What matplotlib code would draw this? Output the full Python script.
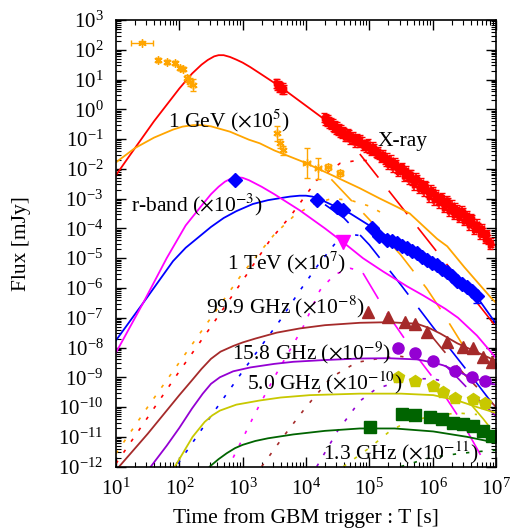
import numpy as np
import matplotlib
matplotlib.use("Agg")
import matplotlib.pyplot as plt
from matplotlib.ticker import LogLocator, LogFormatterMathtext, NullFormatter

plt.rcParams['font.family'] = ['Liberation Serif', 'DejaVu Serif']
plt.rcParams['mathtext.fontset'] = 'stix'
plt.rcParams['axes.unicode_minus'] = False

# ---- model curves, log10(t [s]) and log10(F [mJy]) ----
xray_mod_lt = [1.0, 1.2, 1.4, 1.6, 1.8, 2.0, 2.2, 2.35, 2.45, 2.55, 2.62, 2.7, 2.8, 2.9, 3.0, 3.12, 3.3, 3.6, 4.3, 4.85, 5.2, 5.5, 5.75, 6.0, 6.25, 6.5, 6.75, 7.0]
xray_mod_lf = [-2.21, -1.6, -1.0, -0.4, 0.15, 0.7, 1.2, 1.5, 1.66, 1.78, 1.82, 1.82, 1.76, 1.67, 1.57, 1.42, 1.17, 0.75, -0.35, -1.05, -1.55, -1.98, -2.4, -2.85, -3.25, -3.65, -4.1, -4.6]
xray_dot_lt = [1.0, 1.5, 2.0, 2.5, 3.0, 3.43, 3.75, 4.17, 4.54, 4.85, 5.1]
xray_dot_lf = [-11.9, -10.35, -8.8, -7.3, -5.75, -4.4, -3.6, -2.38, -1.81, -1.7, -1.75]
xray_dash_lt = [4.85, 7.0]
xray_dash_lf = [-1.5, -7.3]

gev_mod_lt = [1.0, 1.3, 1.6, 1.9, 2.05, 2.22, 2.35, 2.5, 2.8, 3.1, 3.27, 3.5, 3.95, 4.4, 4.85, 5.17, 5.44, 5.64, 6.07, 6.23, 6.5, 6.91, 7.0]
gev_mod_lf = [-1.78, -1.3, -0.95, -0.68, -0.58, -0.53, -0.53, -0.57, -0.75, -1.02, -1.14, -1.38, -1.76, -2.2, -2.65, -3.0, -3.28, -3.5, -4.35, -4.6, -5.3, -6.3, -6.5]
gev_dot_lt = [1.0, 1.5, 2.0, 2.5, 3.0, 3.5, 3.8, 4.1, 4.4, 4.7, 5.0, 5.3]
gev_dot_lf = [-11.56, -10.0, -8.5, -7.0, -5.5, -4.2, -3.6, -3.2, -3.0, -3.05, -3.25, -3.6]
gev_dash_lt = [4.4, 5.0, 5.5, 5.9, 6.15, 6.5]
gev_dash_lf = [-2.35, -3.7, -4.9, -6.0, -6.8, -8.0]

opt_mod_lt = [1.0, 1.43, 1.9, 2.1, 2.3, 2.5, 2.7, 2.9, 3.16, 3.4, 3.6, 3.75, 3.9, 4.0, 4.1, 4.2, 4.4, 4.7, 5.0, 5.33, 5.7, 6.07, 6.4, 6.7, 7.0]
opt_mod_lf = [-7.76, -6.5, -5.1, -4.65, -4.3, -3.95, -3.65, -3.42, -3.18, -3.05, -2.98, -2.93, -2.9, -2.9, -2.93, -3.0, -3.2, -3.5, -3.9, -4.33, -4.85, -5.4, -5.85, -6.3, -7.2]
opt_dot_lt = [1.98, 2.5, 3.0, 3.59, 3.9, 4.2, 4.5, 4.7, 4.9]
opt_dot_lf = [-11.9, -10.3, -8.8, -7.09, -6.1, -5.2, -4.4, -4.2, -4.25]
opt_dash_lt = [4.3, 4.6, 5.0, 5.5, 6.0, 6.64, 6.95]
opt_dash_lf = [-3.2, -3.65, -4.55, -5.9, -7.3, -9.04, -9.9]

tev_mod_lt = [1.0, 1.43, 1.8, 2.1, 2.33, 2.5, 2.62, 2.72, 2.82, 2.91, 3.0, 3.1, 3.3, 3.5, 3.9, 4.3, 4.59, 4.9, 5.22, 5.6, 5.85, 6.2, 6.4, 6.7, 7.0]
tev_mod_lf = [-8.17, -6.5, -5.0, -3.9, -3.29, -2.85, -2.6, -2.43, -2.32, -2.28, -2.3, -2.38, -2.6, -2.85, -3.39, -4.0, -4.47, -5.0, -5.45, -5.95, -6.25, -6.7, -7.0, -7.6, -8.35]
tev_dot_lt = [2.85, 3.2, 3.5, 3.95, 4.22, 4.45, 4.7, 4.9]
tev_dot_lf = [-11.7, -10.2, -9.0, -7.33, -6.08, -5.55, -5.34, -5.45]
tev_dash_lt = [4.9, 5.27, 5.75, 6.0, 6.48, 6.78, 6.9]
tev_dash_lf = [-5.5, -6.82, -8.3, -9.0, -10.56, -11.7, -12.1]

r99_mod_lt = [1.05, 1.5, 2.0, 2.2, 2.35, 2.5, 2.65, 2.85, 3.0, 3.2, 3.54, 3.9, 4.3, 4.85, 5.3, 5.75, 5.95, 6.12, 6.39, 6.64, 7.0]
r99_mod_lf = [-12.0, -10.9, -9.6, -9.1, -8.72, -8.38, -8.14, -7.95, -7.83, -7.7, -7.5, -7.36, -7.25, -7.17, -7.15, -7.2, -7.35, -7.53, -7.86, -8.1, -8.45]
r99_dot_lt = [3.3, 3.64, 4.0, 4.4, 4.8, 5.2, 5.5, 5.8]
r99_dot_lf = [-12.0, -11.0, -10.0, -9.0, -8.5, -8.35, -8.3, -8.4]
r99_dash_lt = [5.9, 6.17, 6.5, 6.86, 7.0]
r99_dash_lf = [-7.4, -8.1, -8.9, -9.68, -10.0]

r15_mod_lt = [1.55, 1.8, 2.0, 2.2, 2.37, 2.5, 2.64, 2.85, 3.12, 3.5, 3.8, 4.3, 4.85, 5.3, 5.75, 6.0, 6.17, 6.54, 6.86, 7.0]
r15_mod_lf = [-12.0, -11.3, -10.7, -10.05, -9.55, -9.22, -9.0, -8.8, -8.67, -8.55, -8.48, -8.42, -8.37, -8.36, -8.4, -8.5, -8.6, -8.94, -9.18, -9.25]
r15_dot_lt = [4.17, 4.5, 4.85, 5.1, 5.37, 5.7, 6.0, 6.2]
r15_dot_lf = [-12.0, -10.8, -9.8, -9.4, -9.2, -9.05, -9.05, -9.15]
r15_dash_lt = [6.2, 6.43, 6.7, 7.0]
r15_dash_lf = [-8.6, -9.1, -9.7, -10.3]

r5_mod_lt = [1.93, 2.21, 2.4, 2.52, 2.64, 2.9, 3.27, 3.6, 4.06, 4.85, 5.5, 6.01, 6.39, 6.7, 7.0]
r5_mod_lf = [-12.0, -11.0, -10.5, -10.28, -10.12, -9.92, -9.78, -9.68, -9.6, -9.55, -9.55, -9.6, -9.78, -10.0, -10.2]
r5_dot_lt = [4.59, 5.01, 5.33, 5.6, 6.0, 6.39, 6.7]
r5_dot_lf = [-12.0, -11.36, -10.8, -10.5, -10.3, -10.2, -10.25]
r5_dash_lt = [6.6, 6.8, 7.0]
r5_dash_lf = [-9.9, -10.4, -10.95]

r13_mod_lt = [2.48, 2.62, 2.75, 2.88, 3.0, 3.2, 3.4, 3.8, 4.3, 4.85, 5.4, 6.01, 6.54, 7.0]
r13_mod_lf = [-12.0, -11.75, -11.55, -11.38, -11.27, -11.14, -11.05, -10.92, -10.8, -10.72, -10.72, -10.82, -11.0, -11.2]
r13_dot_lt = [5.5, 5.91, 6.12, 6.43, 6.7, 7.0]
r13_dot_lf = [-12.0, -11.73, -11.65, -11.56, -11.5, -11.45]

# ---- data points ----
xray_lt = [3.52, 3.54, 3.55, 3.57, 3.58, 3.59, 3.61, 3.62, 3.63, 3.65,
           4.28, 4.30, 4.31, 4.33, 4.34, 4.36, 4.37, 4.39, 4.40, 4.42, 4.43, 4.45,
           4.46, 4.48, 4.49, 4.51, 4.52, 4.54, 4.55, 4.57, 4.58,
           4.60, 4.64, 4.68, 4.72, 4.76, 4.80, 4.84, 4.88, 4.92, 4.96, 5.00, 5.04,
           5.08, 5.12, 5.16, 5.20, 5.24, 5.28, 5.32, 5.36, 5.40, 5.44, 5.48, 5.52,
           5.56, 5.60, 5.64, 5.68, 5.72, 5.76, 5.80, 5.84, 5.88, 5.92, 5.96, 6.00,
           6.04, 6.08, 6.12, 6.16, 6.20, 6.24, 6.28, 6.32, 6.36, 6.40, 6.44, 6.48,
           6.52, 6.56, 6.60, 6.64, 6.68, 6.72, 6.76, 6.80, 6.84, 6.88, 6.92,
           4.62, 4.66, 4.70, 4.74, 4.78, 4.82, 4.86, 4.90, 4.94, 4.98, 5.02, 5.06,
           5.10, 5.14, 5.18, 5.22, 5.26, 5.30, 5.34, 5.38, 5.42, 5.46, 5.50, 5.54,
           5.58, 5.62, 5.66, 5.70, 5.74, 5.78, 5.82, 5.86, 5.90, 5.94, 5.98, 6.02,
           6.06, 6.10, 6.14, 6.18, 6.22, 6.26, 6.30, 6.34, 6.38, 6.42, 6.46, 6.50,
           6.54, 6.58, 6.62, 6.66, 6.70, 6.74, 6.78, 6.82, 6.86, 6.90]
xray_lf = [0.88, 0.80, 0.86, 0.80, 0.72, 0.78, 0.74, 0.66, 0.72, 0.68,
           -0.28, -0.36, -0.30, -0.42, -0.34, -0.46, -0.40, -0.52, -0.45, -0.57, -0.48,
           -0.62, -0.54, -0.68, -0.58, -0.72, -0.64, -0.78, -0.68, -0.82, -0.74,
           -0.78, -0.90, -0.86, -0.97, -1.02, -0.98, -1.12, -1.08, -1.22, -1.18, -1.30, -1.36,
           -1.31, -1.48, -1.52, -1.57, -1.70, -1.62, -1.78, -1.85, -1.80, -1.98, -2.02, -1.95,
           -2.15, -2.22, -2.18, -2.38, -2.42, -2.35, -2.58, -2.62, -2.55, -2.78, -2.82, -2.75,
           -2.95, -3.02, -2.98, -3.15, -3.20, -3.12, -3.32, -3.38, -3.30, -3.48, -3.52, -3.46,
           -3.62, -3.70, -3.66, -3.85, -3.92, -3.98, -4.10, -4.15, -4.25, -4.38, -4.48,
           -0.92, -0.80, -1.00, -0.90, -1.10, -1.05, -1.00, -1.20, -1.28, -1.15, -1.40, -1.25,
           -1.45, -1.40, -1.62, -1.50, -1.75, -1.85, -1.70, -1.95, -1.85, -2.10, -2.00, -2.25,
           -2.05, -2.35, -2.20, -2.55, -2.30, -2.65, -2.45, -2.75, -2.60, -2.95, -2.70, -3.05,
           -2.85, -3.15, -2.95, -3.30, -3.05, -3.42, -3.20, -3.55, -3.35, -3.65, -3.40, -3.75,
           -3.55, -3.90, -3.70, -4.05, -3.85, -4.20, -4.00, -4.35, -4.20, -4.55]

gev_lt = [1.41, 1.66, 1.80, 1.93, 2.01, 2.06, 2.12, 2.17, 2.21, 3.54, 3.59, 3.64, 4.01, 4.19, 4.35, 4.54]
gev_lf = [2.23, 1.65, 1.59, 1.55, 1.38, 1.35, 1.05, 0.92, 0.81, -0.80, -1.14, -1.37, -1.80, -1.98, -1.94, -2.15]
gev_dlf = [0.05, 0.06, 0.06, 0.06, 0.07, 0.07, 0.12, 0.15, 0.2, 0.25, 0.15, 0.15, 0.5, 0.35, 0.1, 0.1]
gev_dlt = [0.18, 0.03, 0.03, 0.03, 0.03, 0.03, 0.03, 0.03, 0.03, 0.03, 0.03, 0.03, 0.05, 0.05, 0.05, 0.05]

opt_lt = [2.88, 4.18, 4.49, 4.59, 5.04, 5.16, 5.28, 5.36, 5.44, 5.52, 5.60, 5.68, 5.75, 5.83,
          5.91, 5.99, 6.07, 6.15, 6.23, 6.31, 6.39, 6.47, 6.54, 6.62, 6.70]
opt_lf = [-2.38, -3.05, -3.29, -3.39, -4.0, -4.25, -4.4, -4.42, -4.5, -4.6, -4.67, -4.76, -4.84, -4.95,
          -5.07, -5.15, -5.24, -5.36, -5.47, -5.6, -5.75, -5.85, -5.97, -6.1, -6.26]

tev_lt = [4.59]
tev_lf = [-4.47]

r99_lt = [4.98, 5.30, 5.57, 5.72, 5.91, 6.23, 6.48, 6.64, 6.80, 6.94]
r99_lf = [-6.82, -6.99, -7.16, -7.22, -7.49, -7.83, -7.99, -8.03, -8.33, -8.5]
r15_lt = [5.46, 5.72, 6.01, 6.36, 6.62, 6.83]
r15_lf = [-8.03, -8.2, -8.44, -8.78, -8.98, -9.11]
r5_lt = [5.46, 5.72, 6.01, 6.17, 6.36, 6.64, 6.83]
r5_lf = [-8.98, -9.11, -9.28, -9.48, -9.68, -9.72, -9.88]
r13_lt = [5.01, 5.52, 5.72, 5.96, 6.15, 6.32, 6.48, 6.64, 6.80, 6.94]
r13_lf = [-10.66, -10.22, -10.26, -10.33, -10.39, -10.52, -10.56, -10.63, -10.8, -10.96]

RED = '#ff0000'
ORANGE = '#ffa500'
BLUE = '#0000ff'
MAGENTA = '#ff00ff'
BROWN = '#a52a2a'
PURPLE = '#9400d3'
YELLOW = '#c8c800'
GREEN = '#006400'

DOT = (0, (2, 6))
DASH = (0, (18, 10))


def p(v):
    return 10.0 ** np.asarray(v, dtype=float)


fig = plt.figure(figsize=(5.11, 5.29), dpi=100)
ax = fig.add_axes([0.227, 0.118, 0.7436, 0.8441])

bands = [
    (RED, xray_mod_lt, xray_mod_lf, xray_dot_lt, xray_dot_lf, xray_dash_lt, xray_dash_lf),
    (ORANGE, gev_mod_lt, gev_mod_lf, gev_dot_lt, gev_dot_lf, gev_dash_lt, gev_dash_lf),
    (BLUE, opt_mod_lt, opt_mod_lf, opt_dot_lt, opt_dot_lf, opt_dash_lt, opt_dash_lf),
    (MAGENTA, tev_mod_lt, tev_mod_lf, tev_dot_lt, tev_dot_lf, tev_dash_lt, tev_dash_lf),
    (BROWN, r99_mod_lt, r99_mod_lf, r99_dot_lt, r99_dot_lf, r99_dash_lt, r99_dash_lf),
    (PURPLE, r15_mod_lt, r15_mod_lf, r15_dot_lt, r15_dot_lf, r15_dash_lt, r15_dash_lf),
    (YELLOW, r5_mod_lt, r5_mod_lf, r5_dot_lt, r5_dot_lf, r5_dash_lt, r5_dash_lf),
    (GREEN, r13_mod_lt, r13_mod_lf, r13_dot_lt, r13_dot_lf, None, None),
]
for c, mt, mf, dt, df, st, sf in bands:
    ax.plot(p(dt), p(df), color=c, lw=1.2, ls=DOT)
    if st is not None:
        ax.plot(p(st), p(sf), color=c, lw=1.2, ls=DASH)
    ax.plot(p(mt), p(mf), color=c, lw=1.3)

# X-ray data
xt = p(xray_lt)
xf = p(xray_lf)
e = 0.15
ax.errorbar(xt, xf, yerr=[xf * (1 - 10 ** -e), xf * (10 ** e - 1)],
            xerr=[xt * (1 - 10 ** -0.03), xt * (10 ** 0.03 - 1)],
            fmt='s', color=RED, ms=3, mew=1, elinewidth=1.2, capsize=2)

# 1 GeV data
gt = p(gev_lt)
gf = p(gev_lf)
dlf = np.asarray(gev_dlf)
dlt = np.asarray(gev_dlt)
ax.errorbar(gt, gf, yerr=[gf * (1 - 10 ** -dlf), gf * (10 ** dlf - 1)],
            xerr=[gt * (1 - 10 ** -dlt), gt * (10 ** dlt - 1)],
            fmt='none', ecolor=ORANGE, elinewidth=1, capsize=2)
ax.plot(gt, gf, ls='none', marker=(6, 2, 0), color=ORANGE, ms=6, mew=1)

# r-band data
ax.plot(p(opt_lt), p(opt_lf), ls='none', marker='D', color=BLUE, ms=7)
ax.errorbar([10 ** 6.70], [10 ** -6.26], yerr=[[10 ** -6.26 - 10 ** -6.52], [0]],
            fmt='none', ecolor=BLUE, elinewidth=1, capsize=3)

# 1 TeV upper limit
ax.plot(p(tev_lt), p(tev_lf), ls='none', marker='v', color=MAGENTA, ms=10)

# radio
ax.plot(p(r99_lt), p(r99_lf), ls='none', marker='^', color=BROWN, ms=8)
ax.plot(p(r15_lt), p(r15_lf), ls='none', marker='o', color=PURPLE, ms=8)
ax.plot(p(r5_lt), p(r5_lf), ls='none', marker='p', color=YELLOW, ms=9)
ax.plot(p(r13_lt), p(r13_lf), ls='none', marker='s', color=GREEN, ms=8)

fs = 15.5
ax.text(610, 0.43, r'1 GeV ($\times$10$^{5}$)', fontsize=fs, ha='center', va='center')
ax.text(3.3e5, 0.085, 'X-ray', fontsize=fs, ha='center', va='center')
ax.text(191, 6.0e-4, r'r-band ($\times$10$^{-3}$)', fontsize=fs, ha='center', va='center')
ax.text(4880, 7.2e-6, r'1 TeV ($\times$10$^{7}$)', fontsize=fs, ha='center', va='center')
ax.text(4700, 2.4e-7, r'99.9 GHz ($\times$10$^{-8}$)', fontsize=fs, ha='center', va='center')
ax.text(1.2e4, 6.8e-9, r'15.8 GHz ($\times$10$^{-9}$)', fontsize=fs, ha='center', va='center')
ax.text(1.96e4, 6.6e-10, r'5.0 GHz ($\times$10$^{-10}$)', fontsize=fs, ha='center', va='center')
ax.text(3.1e5, 2.9e-12, r'1.3 GHz ($\times$10$^{-11}$)', fontsize=fs, ha='center', va='center')

ax.set_xscale('log')
ax.set_yscale('log')
ax.set_xlim(1e1, 1e7)
ax.set_ylim(1e-12, 1e3)

ax.xaxis.set_major_locator(LogLocator(base=10, numticks=20))
ax.yaxis.set_major_locator(LogLocator(base=10, numticks=30))
ax.xaxis.set_minor_locator(LogLocator(base=10, subs=np.arange(2, 10), numticks=200))
ax.yaxis.set_minor_locator(LogLocator(base=10, subs=np.arange(2, 10), numticks=200))
ax.xaxis.set_major_formatter(LogFormatterMathtext())
ax.yaxis.set_major_formatter(LogFormatterMathtext())
ax.xaxis.set_minor_formatter(NullFormatter())
ax.yaxis.set_minor_formatter(NullFormatter())
ax.tick_params(which='both', direction='in', top=True, right=True, labelsize=15)
ax.tick_params(which='major', length=7, width=1)
ax.tick_params(which='minor', length=3.5, width=0.8)
ax.tick_params(axis='x', which='major', pad=9)
ax.tick_params(axis='y', which='major', pad=9)
for s in ax.spines.values():
    s.set_linewidth(1.2)

ax.set_xlabel('Time from GBM trigger : T [s]', fontsize=fs)
ax.set_ylabel('Flux [mJy]', fontsize=fs)
ax.xaxis.set_label_coords(0.5, -0.093)
ax.yaxis.set_label_coords(-0.224, 0.5)

fig.savefig('out.png', dpi=100)
